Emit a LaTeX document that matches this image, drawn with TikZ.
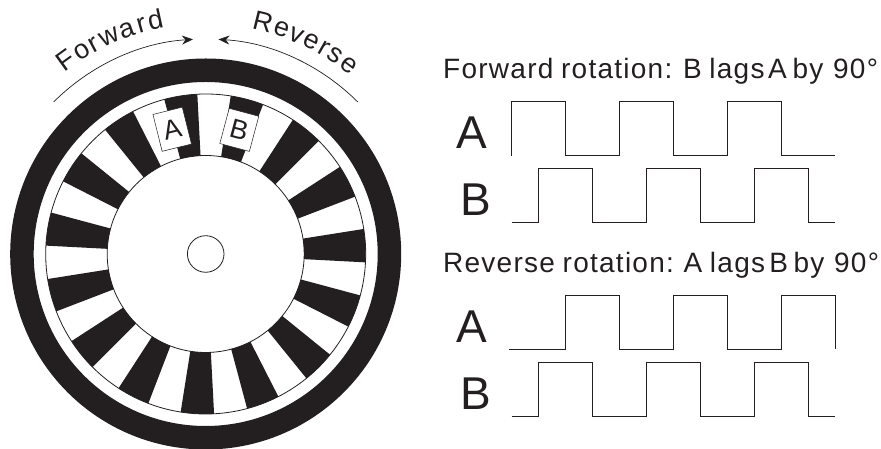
\documentclass[tikz,border=0pt]{standalone}
\usepackage{fontspec}
\setmainfont{Liberation Sans}
\newfontfamily\spaced[LetterSpace=4.5,WordSpace=0.85]{Liberation Sans}
\usetikzlibrary{arrows.meta}
\definecolor{ink}{HTML}{231F20}
\tikzset{
  x=1pt,y=1pt,
  thinline/.style={draw=ink,line width=0.8pt},
  wave/.style={draw=ink,line width=0.8pt,line join=miter},
  arcarrow/.style={draw=ink,line width=0.7pt,-{Stealth[length=11pt,width=9pt]}},
  heading/.style={anchor=base west,inner sep=0pt,text=ink,font=\spaced\fontsize{28}{28}\selectfont},
  biglabel/.style={anchor=base west,inner sep=0pt,text=ink,font=\fontsize{46}{46}\selectfont},
  sensor/.style={draw=ink,line width=0.5pt,fill=white,inner sep=0pt,text=ink,font=\fontsize{27}{27}\selectfont},
  arcletter/.style={anchor=base,inner sep=0pt,text=ink,font=\fontsize{27}{27}\selectfont}
}
\begin{document}
\begin{tikzpicture}
\useasboundingbox (0,0) rectangle (881,449);
\begin{scope}[shift={(205.7,195)}]
  \fill[ink,even odd rule] (0,0) circle[radius=195.5pt] (0,0) circle[radius=172pt];
  \foreach \k in {0,...,14}{
    \pgfmathsetmacro{\a}{93+24*\k}
    \pgfmathsetmacro{\b}{\a+12}
    \fill[ink] (\a:98.5) -- (\a:160) arc[start angle=\a,end angle=\b,radius=160pt] -- (\b:98.5) arc[start angle=\b,end angle=\a,radius=98.5pt] -- cycle;
  }
  \draw[thinline] (0,0) circle[radius=160pt];
  \draw[thinline] (0,0) circle[radius=98.5pt];
  \draw[thinline] (0,0) circle[radius=18.3pt];
  \draw[arcarrow] (135:215) arc[start angle=135,end angle=93.4,radius=215pt];
  \draw[arcarrow] (45:215) arc[start angle=45,end angle=86.6,radius=215pt];
  \foreach \c/\t [count=\i] in {F/125.9,o/121.5,r/118,w/114,a/109.2,r/105.7,d/102.2}{
    \node[arcletter,rotate=\t-90] (fw\i) at (\t:230) {\c};
  }
  \foreach \c/\t [count=\i] in {R/76.1,e/71.35,v/67.4,e/63.4,r/60,s/56.8,e/52.8}{
    \node[arcletter,rotate=\t-90] (rv\i) at (\t:230) {\c};
  }
\end{scope}
\node[sensor,minimum width=30.2pt,minimum height=38pt,rotate=14] (sa) at (172.2,319.75) {A};
\node[sensor,minimum width=30.6pt,minimum height=36.4pt,rotate=-15] (sb) at (239.3,319.1) {B};

\node[heading] (h1) at (443,370.7) {Forward rotation: B lags\kern-4pt{} A\kern-2pt{} by\kern2pt{} 90°};
\node[heading] (h2) at (443,176.7) {Reverse rotation:\kern-1pt{} A lags\kern-3.5pt{} B\kern-2pt{} by\kern2pt{} 90°};
\node[biglabel] (a1) at (456.7,300.7) {A};
\node[biglabel] (b1) at (460,233) {B};
\node[biglabel] (a2) at (456.7,106.7) {A};
\node[biglabel] (b2) at (460,39) {B};

\draw[wave] (511.7,293.3) |- (565.3,347.3) |- (619.3,293.3) |- (673.3,347.3) |- (727.3,293.3) |- (781.3,347.3) |- (835.3,293.3);
\draw[wave] (511.7,226.3) -| (538.7,280.7) -| (592.7,226.3) -| (646.7,280.7) -| (700.7,226.3) -| (754.7,280.7) -| (808.7,226.3) -- (835.3,226.3);
\draw[wave] (509,99.7) -| (565.3,153.7) -| (619.3,99.7) -| (673.3,153.7) -| (727.3,99.7) -| (781.3,153.7) -| (835.3,99.7);
\draw[wave] (511.7,32.7) -| (538.7,86.7) -| (592.7,32.7) -| (646.7,86.7) -| (700.7,32.7) -| (754.7,86.7) -| (808.7,32.7) -- (835.3,32.7);
\end{tikzpicture}
\end{document}
